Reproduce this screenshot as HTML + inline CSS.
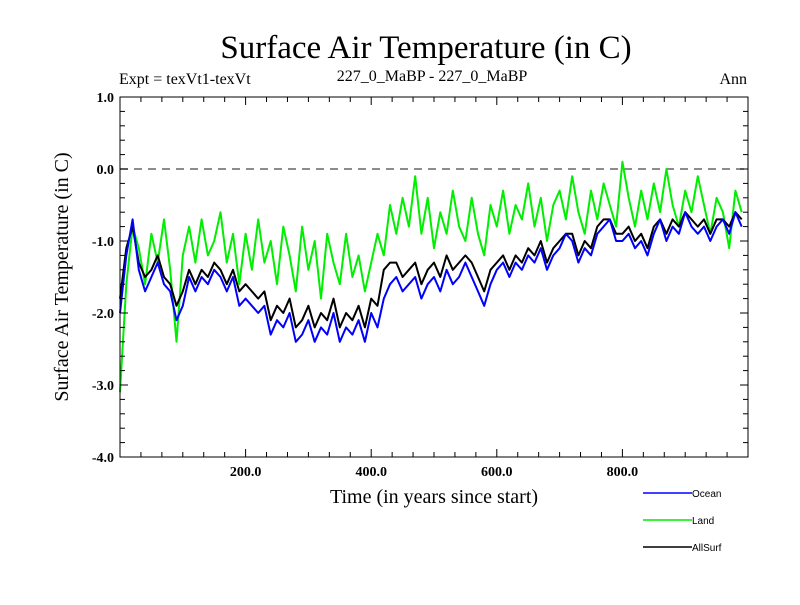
<!DOCTYPE html>
<html><head><meta charset="utf-8"><style>
body{margin:0;background:#fff}
svg text{font-family:"Liberation Serif",serif}
</style></head><body>
<svg id="chart" width="800" height="600" xmlns="http://www.w3.org/2000/svg">
<text x="426" y="58" font-size="33" text-anchor="middle">Surface Air Temperature (in C)</text>
<text x="119" y="84" font-size="16">Expt = texVt1-texVt</text>
<text x="432" y="81" font-size="16" text-anchor="middle">227_0_MaBP - 227_0_MaBP</text>
<text x="747" y="84" font-size="16" text-anchor="end">Ann</text>
<text x="434" y="503" font-size="20" text-anchor="middle">Time (in years since start)</text>
<text transform="translate(68,277) rotate(-90)" font-size="20" text-anchor="middle">Surface Air Temperature (in C)</text>
<g id="grid"></g><g id="series"></g><g id="axes"></g><g id="legend"></g>
</svg>
<script>
const years=[];for(let i=0;i<100;i++)years.push(i*10);
const ocean=[-2.0,-1.2,-0.7,-1.4,-1.7,-1.5,-1.3,-1.6,-1.7,-2.1,-1.9,-1.5,-1.7,-1.5,-1.6,-1.4,-1.5,-1.7,-1.5,-1.9,-1.8,-1.9,-2.0,-1.9,-2.3,-2.1,-2.2,-2.0,-2.4,-2.3,-2.1,-2.4,-2.2,-2.3,-2.0,-2.4,-2.2,-2.3,-2.1,-2.4,-2.0,-2.2,-1.8,-1.6,-1.5,-1.7,-1.6,-1.5,-1.8,-1.6,-1.5,-1.7,-1.4,-1.6,-1.5,-1.3,-1.5,-1.7,-1.9,-1.6,-1.4,-1.3,-1.5,-1.3,-1.4,-1.2,-1.3,-1.1,-1.4,-1.2,-1.1,-0.9,-1.0,-1.3,-1.1,-1.2,-0.9,-0.8,-0.7,-1.0,-1.0,-0.9,-1.1,-1.0,-1.2,-0.9,-0.7,-1.0,-0.8,-0.9,-0.6,-0.8,-0.9,-0.8,-1.0,-0.8,-0.7,-0.9,-0.6,-0.8];
const land=[-3.1,-1.6,-0.8,-1.1,-1.6,-0.9,-1.3,-0.7,-1.4,-2.4,-1.2,-0.8,-1.3,-0.7,-1.2,-1.0,-0.6,-1.3,-0.9,-1.6,-0.9,-1.4,-0.7,-1.3,-1.0,-1.6,-0.8,-1.2,-1.7,-0.8,-1.4,-1.0,-1.8,-0.9,-1.3,-1.6,-0.9,-1.5,-1.2,-1.7,-1.3,-0.9,-1.2,-0.5,-0.9,-0.4,-0.8,-0.1,-0.9,-0.4,-1.1,-0.6,-0.9,-0.3,-0.8,-1.0,-0.4,-0.9,-1.2,-0.5,-0.8,-0.3,-0.9,-0.5,-0.7,-0.2,-0.8,-0.4,-1.0,-0.5,-0.3,-0.7,-0.1,-0.6,-0.9,-0.3,-0.7,-0.2,-0.5,-0.8,0.1,-0.4,-0.8,-0.3,-0.7,-0.2,-0.6,0.0,-0.5,-0.8,-0.3,-0.6,-0.1,-0.5,-0.9,-0.4,-0.6,-1.1,-0.3,-0.6];
const allsurf=[-1.8,-1.1,-0.8,-1.3,-1.5,-1.4,-1.2,-1.5,-1.6,-1.9,-1.7,-1.4,-1.6,-1.4,-1.5,-1.3,-1.4,-1.6,-1.4,-1.7,-1.6,-1.7,-1.8,-1.7,-2.1,-1.9,-2.0,-1.8,-2.2,-2.1,-1.9,-2.2,-2.0,-2.1,-1.8,-2.2,-2.0,-2.1,-1.9,-2.2,-1.8,-1.9,-1.4,-1.3,-1.3,-1.5,-1.4,-1.3,-1.6,-1.4,-1.3,-1.5,-1.2,-1.4,-1.3,-1.2,-1.3,-1.5,-1.7,-1.4,-1.3,-1.2,-1.4,-1.2,-1.3,-1.1,-1.2,-1.0,-1.3,-1.1,-1.0,-0.9,-0.9,-1.2,-1.0,-1.1,-0.8,-0.7,-0.7,-0.9,-0.9,-0.8,-1.0,-0.9,-1.1,-0.8,-0.7,-0.9,-0.7,-0.8,-0.6,-0.7,-0.8,-0.7,-0.9,-0.7,-0.7,-0.8,-0.6,-0.7];
const xTicks=[200,400,600,800];
const xTickLabels=["200.0","400.0","600.0","800.0"];
const yTicks=[1,0,-1,-2,-3,-4];
const yTickLabels=["1.0","0.0","-1.0","-2.0","-3.0","-4.0"];
const X0=120,X1=748,Y0=97,Y1=457;
function xs(v){return X0+(v-0)/(1000-0)*(X1-X0);}
function ys(v){return Y0+(1-v)/(1-(-4))*(Y1-Y0);}
const NS="http://www.w3.org/2000/svg";
function mk(tag,parent,attrs){const e=document.createElementNS(NS,tag);for(const k in attrs)e.setAttribute(k,attrs[k]);parent.appendChild(e);return e;}
const axes=document.getElementById('axes'),series=document.getElementById('series'),grid=document.getElementById('grid'),legend=document.getElementById('legend');
const zl=mk('line',grid,{x1:X0,x2:X1,y1:ys(0),y2:ys(0),stroke:'#666','stroke-width':1.5,'stroke-dasharray':'8,6'});


const frame=mk('rect',axes,{x:X0,y:Y0,width:X1-X0,height:Y1-Y0,fill:'none',stroke:'#000','stroke-width':1});


for(let v=0;v<=1000;v+=200/6){const x=xs(v);const major=Math.abs(v%200)<0.01||Math.abs(v%200-200)<0.01;const L=major?8:5;
mk('line',axes,{x1:x,x2:x,y1:Y0,y2:Y0+L,stroke:'#000'});mk('line',axes,{x1:x,x2:x,y1:Y1,y2:Y1-L,stroke:'#000'});}
for(let v=-4;v<=1.001;v+=0.2){const y=ys(v);const major=Math.abs(v-Math.round(v))<0.01;const L=major?8:5;
mk('line',axes,{x1:X0,x2:X0+L,y1:y,y2:y,stroke:'#000'});mk('line',axes,{x1:X1,x2:X1-L,y1:y,y2:y,stroke:'#000'});}
xTicks.forEach((v,i)=>{const t=mk('text',axes,{x:xs(v),y:Y1+19,'font-size':14,'font-weight':'bold','text-anchor':'middle'});t.textContent=xTickLabels[i];

});
yTicks.forEach((v,i)=>{const t=mk('text',axes,{x:X0-6,y:ys(v)+5,'font-size':14,'font-weight':'bold','text-anchor':'end'});t.textContent=yTickLabels[i];

});
function draw(arr,color,name){const d=arr.map((v,i)=>(i?'L':'M')+xs(years[i]).toFixed(1)+','+ys(v).toFixed(1)).join('');
const p=mk('path',series,{d:d,fill:'none',stroke:color,'stroke-width':2,'stroke-linejoin':'round'});

}
draw(land,'#00ee00','land-line');
draw(allsurf,'#000000','allsurf-line');
draw(ocean,'#0000ff','ocean-line');
const leg=[['Ocean','#0000ff',493],['Land','#00ee00',520],['AllSurf','#000',547]];
leg.forEach(l=>{const g=mk('g',legend,{});


mk('line',g,{x1:643,x2:692,y1:l[2],y2:l[2],stroke:l[1],'stroke-width':1.5});
const t=mk('text',g,{x:692,y:l[2]+4,'font-size':10});t.setAttribute('style','font-family:"Liberation Sans",sans-serif');t.textContent=l[0];});
</script>
</body></html>
